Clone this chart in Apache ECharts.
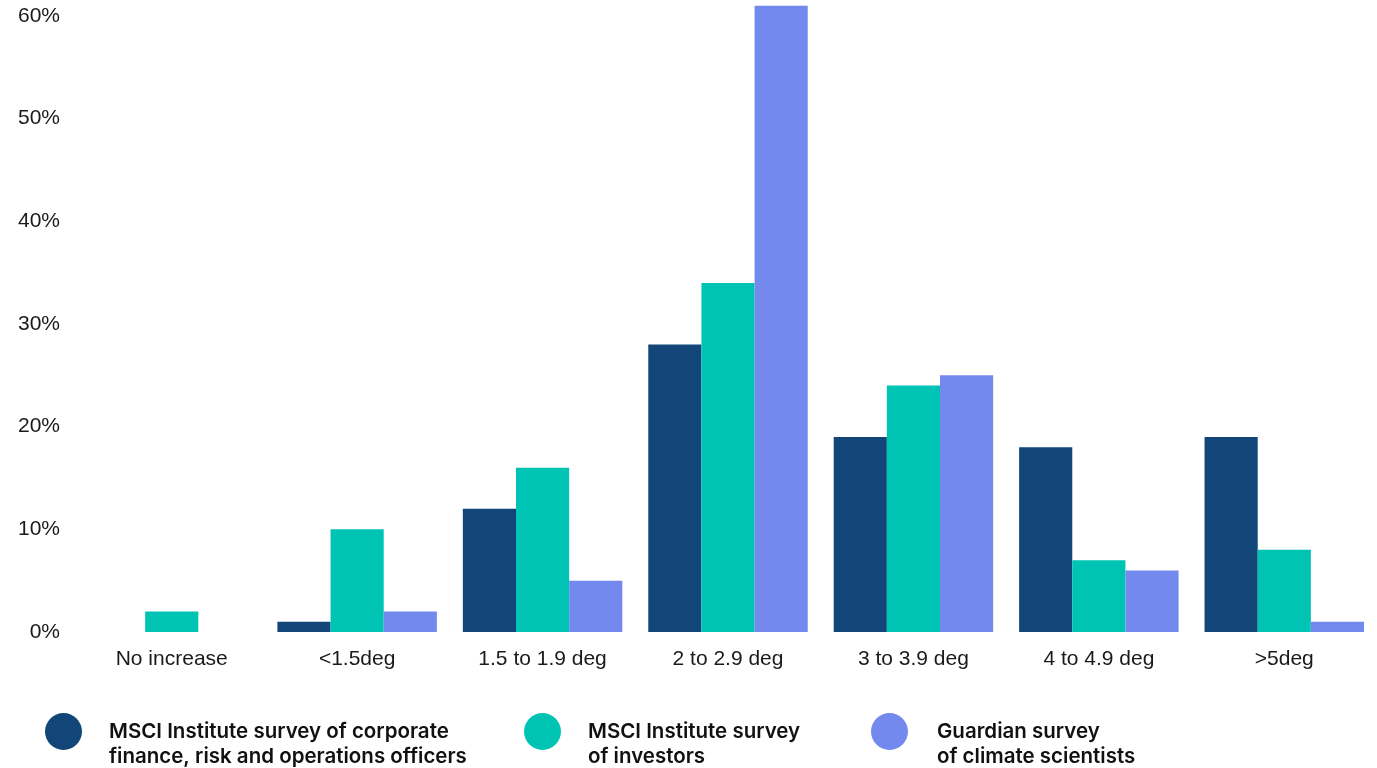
<!DOCTYPE html>
<html>
<head>
<meta charset="utf-8">
<title>Expected warming by 2100</title>
<script src="https://cdn.jsdelivr.net/npm/echarts@6/dist/echarts.min.js"></script>
<style>
  html, body { margin: 0; padding: 0; background: #ffffff; }
  #chart { width: 1377px; height: 768px; }
</style>
</head>
<body>
<div id="chart"></div>
<script>
// Temperature-rise buckets on the x axis
const categories = ['No increase', '<1.5deg', '1.5 to 1.9 deg', '2 to 2.9 deg', '3 to 3.9 deg', '4 to 4.9 deg', '>5deg'];

// Share of respondents (%) per bucket
const corporateOfficers = [0, 1, 12, 28, 19, 18, 19];
const investors = [2, 10, 16, 34, 24, 7, 8];
const climateScientists = [0, 2, 5, 61, 25, 6, 1];

// Legend labels, two lines each
const seriesNames = [
  'MSCI Institute survey of corporate\nfinance, risk and operations officers',
  'MSCI Institute survey\nof investors',
  'Guardian survey\nof climate scientists'
];

const colors = ['#124678', '#00C4B3', '#7389EE'];

const chart = echarts.init(document.getElementById('chart'));

// An empty leading line keeps the first text line level with the marker
const legendBase = {
  orient: 'horizontal',
  icon: 'circle',
  itemWidth: 37,
  itemHeight: 37,
  padding: 0,
  top: 694,
  selectedMode: false,
  formatter: function (name) { return '\u00a0\n' + name; },
  textStyle: {
    fontFamily: 'Inter',
    fontWeight: 600,
    fontSize: 20.5,
    color: '#111111',
    lineHeight: 25,
    padding: [0, 0, 0, 22]
  }
};

chart.setOption({
  animation: false,
  color: colors,
  grid: { left: 79, right: 0, top: 16, bottom: 136, containLabel: false },
  legend: [
    Object.assign({}, legendBase, { left: 45, data: [seriesNames[0]] }),
    Object.assign({}, legendBase, { left: 524, data: [seriesNames[1]] }),
    Object.assign({}, legendBase, { left: 871, data: [seriesNames[2]], textStyle: Object.assign({}, legendBase.textStyle, { padding: [0, 0, 0, 24] }) })
  ],
  xAxis: {
    type: 'category',
    data: categories,
    axisLine: { show: false },
    axisTick: { show: false },
    axisLabel: {
      fontFamily: 'Liberation Sans, Arial, sans-serif',
      fontSize: 21,
      color: '#1a1a1a',
      margin: 17,
      interval: 0
    }
  },
  yAxis: {
    type: 'value',
    min: 0,
    max: 60,
    interval: 10,
    splitLine: { show: false },
    axisLine: { show: false },
    axisTick: { show: false },
    axisLabel: {
      formatter: '{value}%',
      fontFamily: 'Liberation Sans, Arial, sans-serif',
      fontSize: 21,
      color: '#1a1a1a',
      margin: 19
    }
  },
  series: [
    { name: seriesNames[0], type: 'bar', data: corporateOfficers, barGap: '0%', barCategoryGap: '14%', clip: false },
    { name: seriesNames[1], type: 'bar', data: investors, barGap: '0%', barCategoryGap: '14%', clip: false },
    { name: seriesNames[2], type: 'bar', data: climateScientists, barGap: '0%', barCategoryGap: '14%', clip: false }
  ]
});
</script>
</body>
</html>
